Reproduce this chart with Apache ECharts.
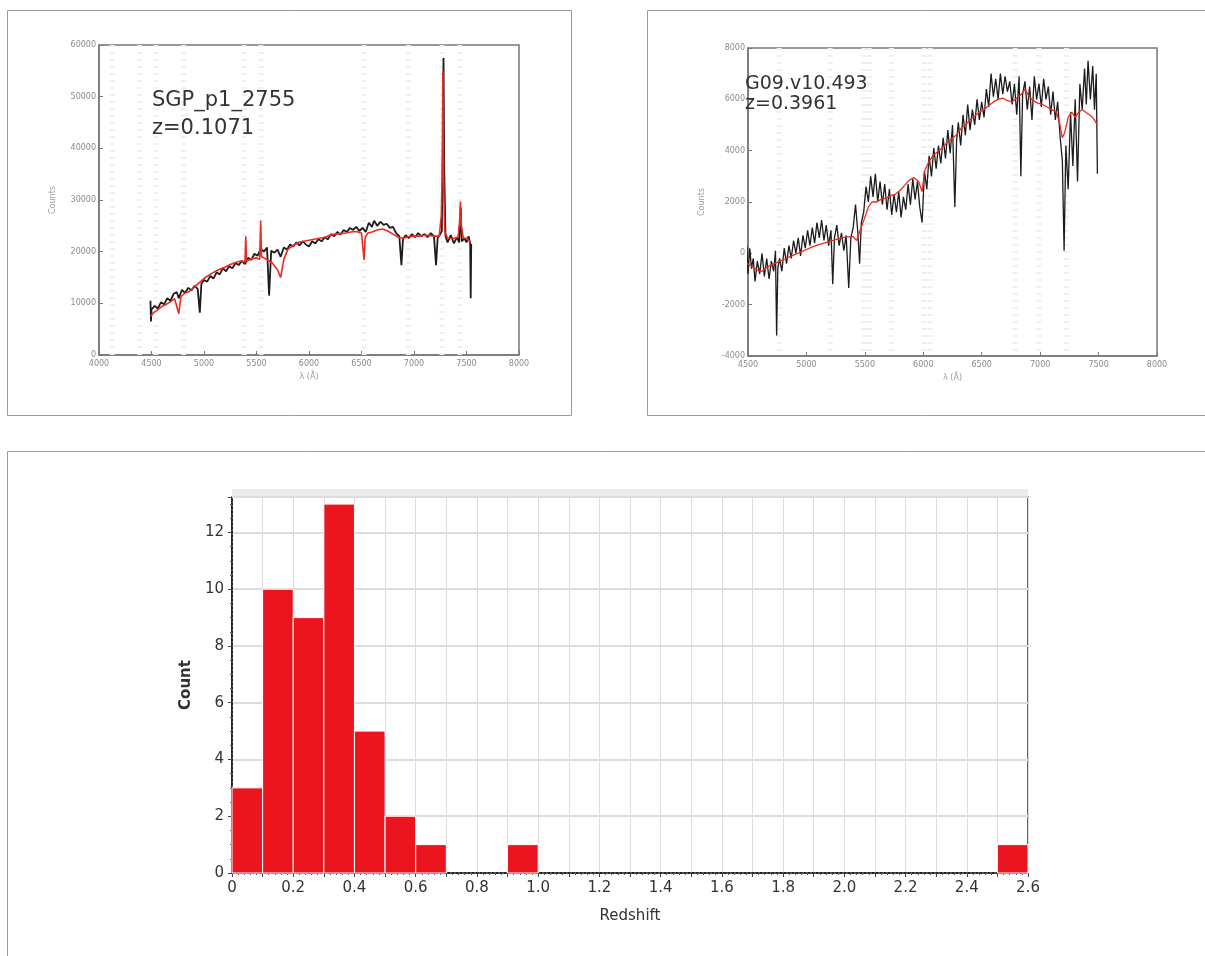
<!DOCTYPE html>
<html>
<head>
<meta charset="utf-8">
<title>Redshift survey: example spectra and redshift distribution</title>
<script src="https://cdn.jsdelivr.net/npm/echarts@6/dist/echarts.min.js"></script>
<style>
  html, body { margin: 0; padding: 0; background: #ffffff; }
  #chart { width: 1205px; height: 956px; }
</style>
</head>
<body>
<div id="chart"></div>
<script>
// ---- Spectrum 1: SGP_p1_2755 (z = 0.1071) ----
const sgpWave = [4490,4495,4500,4530,4560,4590,4620,4650,4680,4710,4740,4760,4790,4820,4850,4880,4910,4940,4960,4975,5000,5030,5060,5090,5120,5150,5180,5210,5240,5270,5300,5330,5360,5390,5420,5450,5480,5510,5540,5570,5600,5620,5640,5670,5700,5730,5760,5790,5820,5850,5880,5910,5940,5970,6000,6030,6060,6090,6120,6150,6180,6210,6240,6270,6300,6330,6360,6390,6420,6450,6480,6510,6540,6570,6600,6620,6650,6680,6710,6740,6770,6800,6830,6860,6880,6895,6920,6950,6980,7010,7040,7070,7100,7130,7160,7190,7210,7225,7250,7265,7275,7281,7288,7300,7320,7350,7380,7410,7430,7445,7455,7480,7500,7520,7535,7540,7545];
const sgpCounts = [10500,6500,8800,9500,9000,10200,9800,11000,10500,11800,12200,11000,12600,12000,13000,12500,13400,12800,8200,13800,14500,14200,15300,14800,16000,15600,16800,16200,17200,16800,17800,17400,18200,17600,18800,18400,19600,19200,20600,20000,20800,11500,20200,19800,20400,19000,20800,20400,21400,21000,21800,21200,22000,21400,21000,22000,21600,22400,22000,22800,22400,23400,23000,23800,23300,24200,23800,24600,24200,24800,24000,24600,23800,25600,24800,26000,25000,25800,25200,25400,24600,24800,23600,23000,17400,22400,23200,22600,23400,22800,23600,23000,23400,22800,23600,23000,17400,22600,23400,24000,40000,57500,36000,23000,21800,23200,21600,22800,21800,28500,22000,22600,21800,23000,21600,11000,21500];
const sgpModelWave = [4490,4520,4560,4600,4640,4680,4720,4760,4780,4820,4860,4900,4950,5000,5050,5100,5150,5200,5250,5300,5350,5390,5398,5405,5450,5500,5530,5540,5548,5600,5650,5700,5730,5760,5800,5850,5900,5950,6000,6050,6100,6150,6200,6250,6300,6350,6400,6450,6500,6525,6535,6560,6600,6650,6700,6750,6800,6850,6900,6950,7000,7050,7100,7150,7200,7240,7260,7268,7275,7282,7292,7320,7380,7420,7435,7442,7450,7470,7500,7540];
const sgpModel = [7500,8200,8800,9400,9800,10300,10900,8000,11300,12000,12300,13000,13900,14800,15500,16100,16600,17000,17500,17900,18200,18000,23000,18200,18600,18800,18500,26000,19000,18500,17800,16500,15000,18500,20500,21200,21800,22000,22200,22400,22600,22800,23200,23400,23500,23600,23800,23900,23600,18400,22800,23600,23800,24200,24400,24000,23400,22800,22600,22900,23000,23000,23200,23100,23000,23000,27000,35000,55000,34000,24000,22600,22600,22800,26000,29700,25000,22600,22600,21800];
// wavelengths of the redshifted features marked on spectrum 1
const sgpLines = [4126, 4386, 4541, 4805, 5382, 5543, 6524, 6947, 7266, 7435];

// ---- Spectrum 2: G09.v10.493 (z = 0.3961) ----
const g09Wave = [4490,4500,4515,4530,4545,4560,4580,4600,4620,4640,4660,4680,4700,4720,4735,4745,4755,4770,4790,4810,4830,4850,4870,4890,4910,4930,4950,4970,4990,5010,5030,5050,5070,5090,5110,5130,5150,5170,5190,5210,5225,5240,5260,5280,5300,5320,5340,5362,5380,5400,5420,5440,5455,5470,5490,5510,5530,5550,5570,5590,5610,5630,5650,5670,5690,5710,5730,5750,5770,5790,5810,5830,5850,5870,5890,5910,5930,5950,5970,5990,6010,6030,6050,6070,6090,6110,6130,6150,6170,6190,6210,6230,6250,6270,6285,6300,6320,6340,6360,6380,6400,6420,6440,6460,6480,6500,6520,6540,6560,6580,6600,6620,6640,6660,6680,6700,6720,6740,6760,6780,6800,6820,6835,6850,6870,6890,6910,6930,6950,6970,6990,7010,7030,7050,7070,7090,7110,7130,7150,7170,7190,7205,7220,7240,7260,7280,7300,7320,7340,7360,7380,7395,7410,7430,7450,7465,7480,7490];
const g09Counts = [300,-800,200,-600,-200,-1100,-300,-800,0,-900,-200,-1000,-300,-700,100,-3200,-600,-200,-700,200,-400,300,-200,500,0,600,-100,700,200,900,300,1000,400,1200,600,1300,500,1100,300,900,-1200,600,1100,300,800,100,700,-1350,600,1000,1900,800,-400,1200,1600,2600,2000,3000,2200,3100,2000,2800,1900,2700,1700,2500,1500,2300,1600,2400,1400,2200,1700,2700,1900,2900,2100,2800,1800,1200,3200,2500,3800,3000,4100,3300,4200,3500,4500,3700,4800,3900,5000,1800,4400,5100,4200,5400,4600,5800,4800,5600,5000,6000,5200,5900,5300,6400,5700,7000,6100,6800,6000,7000,6200,6900,6300,6700,5800,6600,5400,6900,3000,6200,6700,5600,6500,5200,6900,6000,6600,5700,6800,6000,6500,5400,6300,5200,5900,4600,3600,100,4200,2500,5500,3400,6000,2800,6600,5600,7200,5800,7500,6000,7300,5600,7000,3100];
const g09ModelWave = [4490,4530,4580,4620,4660,4700,4750,4800,4850,4900,4950,5000,5050,5100,5150,5200,5250,5300,5350,5400,5430,5460,5500,5530,5560,5600,5640,5680,5720,5760,5800,5840,5880,5920,5960,5990,6010,6040,6080,6120,6160,6200,6240,6280,6320,6360,6400,6440,6480,6520,6560,6600,6640,6680,6720,6760,6800,6840,6870,6900,6940,6980,7020,7060,7100,7140,7170,7190,7210,7240,7270,7300,7330,7360,7390,7420,7450,7490];
const g09Model = [-400,-500,-650,-700,-550,-450,-350,-250,-150,-50,50,150,250,330,400,470,530,600,640,650,500,900,1400,1800,2000,2000,2100,2150,2250,2300,2450,2650,2850,2950,2800,2400,3200,3500,3800,3950,4100,4300,4450,4600,4850,5000,5200,5350,5500,5600,5750,5900,6000,6050,5950,5900,6050,6200,6400,6150,5950,5850,5800,5700,5600,5500,5000,4500,4700,5300,5500,5300,5500,5600,5500,5400,5300,5000];
// wavelengths of the redshifted features marked on spectrum 2
const g09Lines = [4766, 5203, 5492, 5540, 5727, 6008, 6059, 6787, 6990, 7225];

// ---- Redshift histogram ----
const binLow  = [0.0, 0.1, 0.2, 0.3, 0.4, 0.5, 0.6, 0.9, 2.5];
const binHigh = [0.1, 0.2, 0.3, 0.4, 0.5, 0.6, 0.7, 1.0, 2.6];
const binCount = [3, 10, 9, 13, 5, 2, 1, 1, 1];

const spectraLabels = [['SGP_p1_2755', 'z=0.1071'], ['G09.v10.493', 'z=0.3961']];

function pairs(xs, ys) { return xs.map((x, i) => [x, ys[i]]); }

const smallFont = { fontFamily: 'DejaVu Sans', fontSize: 8, color: '#8a8a8a', formatter: v => String(v) };

function spectrumXAxis(gridIndex, min) {
  return {
    type: 'value', gridIndex, min, max: 8000, interval: 500,
    name: 'λ (Å)', nameLocation: 'middle', nameGap: 18,
    nameTextStyle: { fontFamily: 'DejaVu Sans', fontSize: 8, color: '#9a9a9a' },
    axisLine: { show: true, onZero: false, lineStyle: { color: '#777', width: 1.5 } },
    axisTick: { show: true, inside: true, length: 4, lineStyle: { color: '#777' } },
    axisLabel: Object.assign({ margin: 5 }, smallFont),
    splitLine: { show: false }
  };
}
function spectrumYAxis(gridIndex, min, max, interval) {
  return {
    type: 'value', gridIndex, min, max, interval,
    name: 'Counts', nameLocation: 'middle', nameGap: 42, nameRotate: 90,
    nameTextStyle: { fontFamily: 'DejaVu Sans', fontSize: 8, color: '#9a9a9a' },
    axisLine: { show: true, lineStyle: { color: '#777', width: 1.5 } },
    axisTick: { show: true, inside: true, length: 4, lineStyle: { color: '#777' } },
    axisLabel: Object.assign({ margin: 3 }, smallFont),
    splitLine: { show: false }
  };
}
// faint dashed markers at the expected feature wavelengths, drawn beneath the spectra
function featureSeries(axisIndex, waves, yMin, yMax) {
  return {
    type: 'custom', xAxisIndex: axisIndex, yAxisIndex: axisIndex, silent: true, z: 1,
    data: waves.map(w => [w]),
    encode: { x: 0 },
    renderItem: (params, api) => {
      const top = api.coord([api.value(0), yMax]);
      const bottom = api.coord([api.value(0), yMin]);
      return {
        type: 'line',
        shape: { x1: top[0], y1: top[1], x2: bottom[0], y2: bottom[1] },
        style: { stroke: '#eceff3', lineWidth: 5, lineDash: [2, 5] }
      };
    }
  };
}

const chart = echarts.init(document.getElementById('chart'), null, { renderer: 'canvas' });

chart.setOption({
  backgroundColor: '#ffffff',
  animation: false,
  grid: [
    { left: 99, top: 45, width: 420, height: 310, show: true, borderColor: '#777', borderWidth: 1.5, backgroundColor: 'transparent' },
    { left: 748, top: 48, width: 409, height: 308, show: true, borderColor: '#777', borderWidth: 1.5, backgroundColor: 'transparent' },
    { left: 232, top: 497, width: 796, height: 376, show: true, borderColor: '#333', borderWidth: 1.5, backgroundColor: 'transparent' }
  ],
  xAxis: [
    spectrumXAxis(0, 4000),
    spectrumXAxis(1, 4500),
    {
      type: 'value', gridIndex: 2, min: 0, max: 2.6, interval: 0.1,
      name: 'Redshift', nameLocation: 'middle', nameGap: 36,
      nameTextStyle: { fontFamily: 'DejaVu Sans', fontSize: 15, color: '#333' },
      axisLine: { show: true, onZero: false, lineStyle: { color: '#222', width: 2, type: [2, 2] } },
      axisTick: { show: true, length: 4, lineStyle: { color: '#444' } },
      minorTick: { show: true, splitNumber: 5, length: 2, lineStyle: { color: '#555' } },
      axisLabel: {
        fontFamily: 'DejaVu Sans', fontSize: 15, color: '#333', margin: 8,
        formatter: v => {
          const k = Math.round(v * 10);
          if (k % 2 !== 0) return '';
          return k === 0 ? '0' : (k / 10).toFixed(1);
        }
      },
      splitLine: { show: true, lineStyle: { color: '#dddddd', width: 1 } }
    }
  ],
  yAxis: [
    spectrumYAxis(0, 0, 60000, 10000),
    spectrumYAxis(1, -4000, 8000, 2000),
    {
      type: 'value', gridIndex: 2, min: 0, max: 13.25, interval: 2,
      name: 'Count', nameLocation: 'middle', nameGap: 37, nameRotate: 90,
      nameTextStyle: { fontFamily: 'DejaVu Sans', fontSize: 15, fontWeight: 'bold', color: '#333' },
      axisLine: { show: true, lineStyle: { color: '#222', width: 2, type: [2, 2] } },
      axisTick: { show: true, length: 4, lineStyle: { color: '#444' } },
      minorTick: { show: true, splitNumber: 4, length: 2, lineStyle: { color: '#555' } },
      axisLabel: { fontFamily: 'DejaVu Sans', fontSize: 15, color: '#333', margin: 8, showMaxLabel: false },
      splitLine: { show: true, lineStyle: { color: '#dcdcdc', width: 2 } }
    }
  ],
  graphic: [
    // panel frames
    { type: 'rect', shape: { x: 7.5, y: 10.5, width: 564, height: 405 }, style: { fill: 'none', stroke: '#9a9a9a', lineWidth: 1 }, z: -10 },
    { type: 'rect', shape: { x: 647.5, y: 10.5, width: 570, height: 405 }, style: { fill: 'none', stroke: '#9a9a9a', lineWidth: 1 }, z: -10 },
    { type: 'rect', shape: { x: 7.5, y: 451.5, width: 1210, height: 520 }, style: { fill: 'none', stroke: '#9a9a9a', lineWidth: 1 }, z: -10 },
    // shaded strip above the histogram plot
    { type: 'rect', shape: { x: 232, y: 489, width: 796, height: 8 }, style: { fill: '#ececec' }, z: -5 },
    // object labels inside the spectra
    { type: 'text', left: 152, top: 87, style: { text: spectraLabels[0].join('\n'), font: '21px "DejaVu Sans"', fill: '#333', lineHeight: 28 }, z: 10 },
    { type: 'text', left: 745, top: 74, style: { text: spectraLabels[1].join('\n'), font: '19px "DejaVu Sans"', fill: '#333', lineHeight: 20 }, z: 10 }
  ],
  series: [
    featureSeries(0, sgpLines, 0, 60000),
    featureSeries(1, g09Lines, -4000, 8000),
    {
      type: 'line', xAxisIndex: 0, yAxisIndex: 0, data: pairs(sgpWave, sgpCounts),
      showSymbol: false, lineStyle: { color: '#1c1c1c', width: 1.8 }, z: 3
    },
    {
      type: 'line', xAxisIndex: 0, yAxisIndex: 0, data: pairs(sgpModelWave, sgpModel),
      showSymbol: false, lineStyle: { color: '#ee2a1e', width: 1.6 }, z: 4
    },
    {
      type: 'line', xAxisIndex: 1, yAxisIndex: 1, data: pairs(g09Wave, g09Counts),
      showSymbol: false, lineStyle: { color: '#1c1c1c', width: 1.3 }, z: 3
    },
    {
      type: 'line', xAxisIndex: 1, yAxisIndex: 1, data: pairs(g09ModelWave, g09Model),
      showSymbol: false, lineStyle: { color: '#ee2a1e', width: 1.3 }, z: 4
    },
    {
      type: 'custom', xAxisIndex: 2, yAxisIndex: 2,
      data: binLow.map((lo, i) => [lo, binHigh[i], binCount[i]]),
      encode: { x: [0, 1], y: 2 },
      renderItem: (params, api) => {
        const p0 = api.coord([api.value(0), api.value(2)]);
        const p1 = api.coord([api.value(1), 0]);
        return {
          type: 'rect',
          shape: { x: p0[0], y: p0[1], width: p1[0] - p0[0], height: p1[1] - p0[1] },
          style: { fill: '#ea151f', stroke: '#ffffff', lineWidth: 1 }
        };
      },
      z: 5
    }
  ]
});
</script>
</body>
</html>
